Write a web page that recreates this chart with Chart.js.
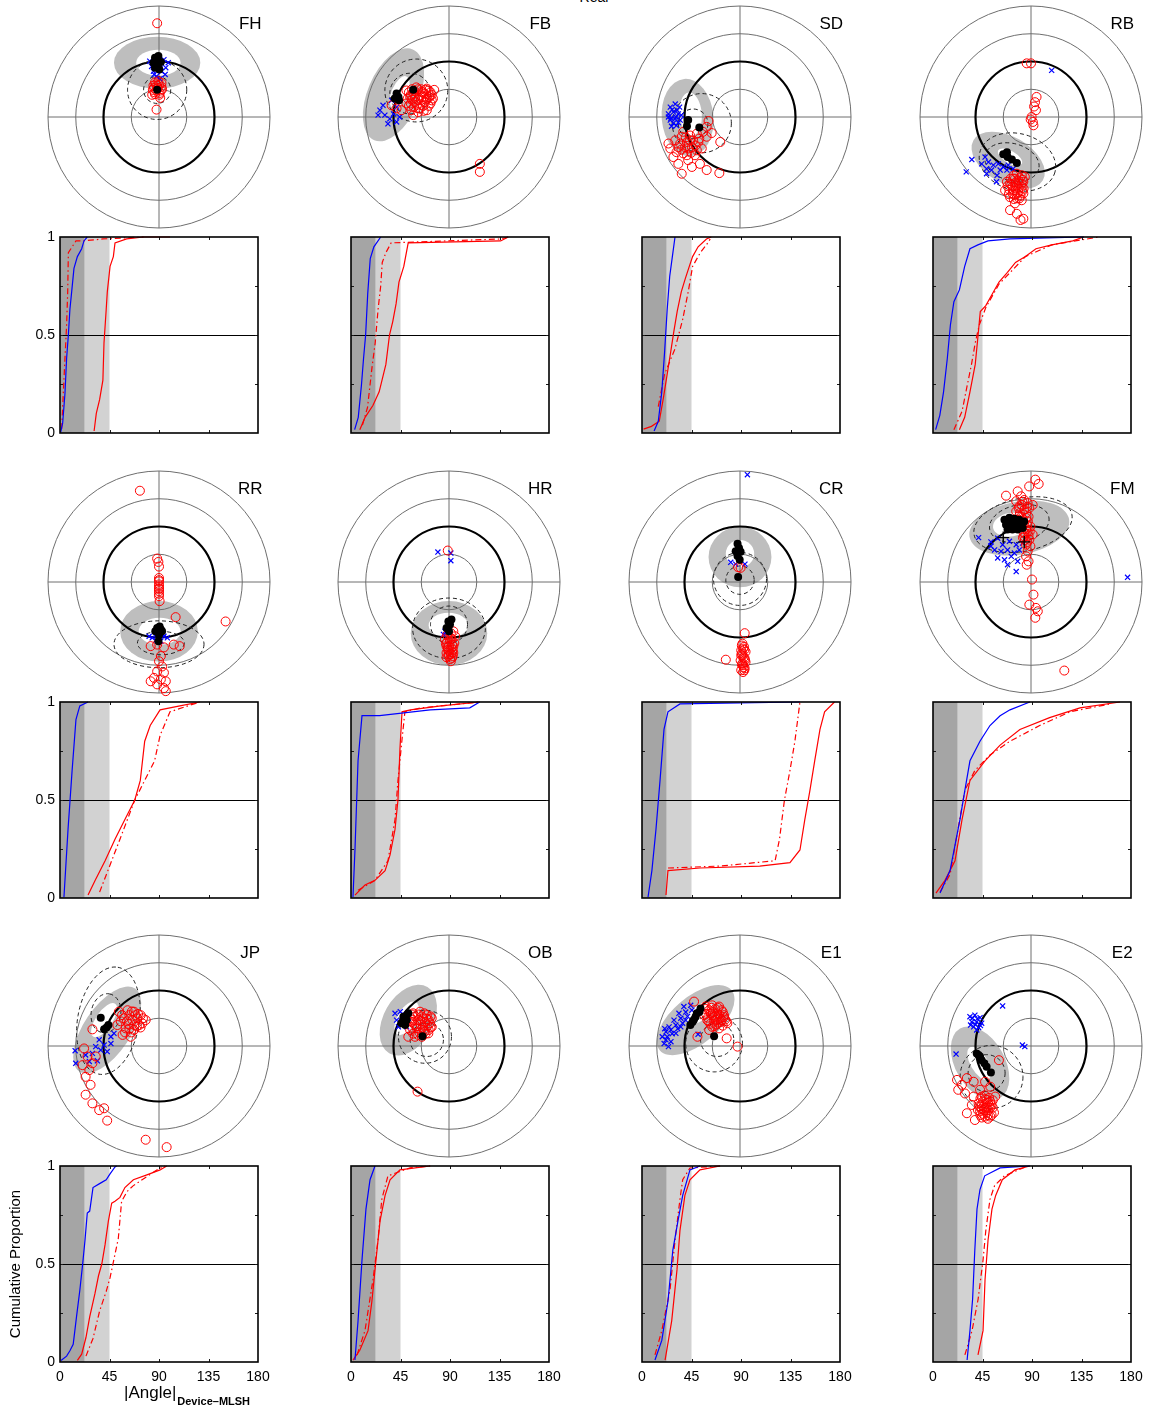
<!DOCTYPE html>
<html>
<head>
<meta charset="utf-8">
<script src="https://cdn.jsdelivr.net/npm/chart.js@4.4.1/dist/chart.umd.min.js"></script>
<style>
html,body{margin:0;padding:0;background:#fff;}
body{width:1149px;height:1412px;position:relative;overflow:hidden;font-family:"Liberation Sans",Arial,Helvetica,sans-serif;}
canvas{position:absolute;}
#title{position:absolute;left:0;width:1188px;text-align:center;top:-11px;font-size:14px;color:#000;}
</style>
</head>
<body>
<div id="title">Real</div>
<script>
// ---- shared axis / ring definitions ----
const panelNames = ['FH','FB','SD','RB','RR','HR','CR','FM','JP','OB','E1','E2'];
const ringRadii = [45, 90, 135, 180];
const ringThick = 90;
const cdfTicksX = [0, 45, 90, 135, 180];
const cdfTicksY = [0, 0.5, 1];
const cdfMinorY = [0.25, 0.5, 0.75];
const bandEdges = [0, 22.5, 45];
const yTitle = 'Cumulative Proportion';
const xTitle = '|Angle|';
const xTitleSub = 'Device\u2013MLSH';

// ---- polar scatter values (x, y in degrees) ----
// shade: [cx, cy, rx, ry, rot, innerCx, innerCy, innerRx, innerRy]
// dashed: [cx, cy, rx, ry, rot]
const FH_red = [[-3,152],[-6.5,56],[-1,58],[4,55],[-9,51],[-3,51],[4,49],[-10,44],[-4,43],[3,43],[-6.5,37],[0.5,36],[-11,36],[2,31],[-4,12],[-2,47],[-7,40],[1,39],[-8,47],[5,45],[-5,53],[0,52]];
const FH_blue = [[-15,90.5],[-6.5,94],[8,93],[15,88],[-12,82],[1.6,85],[11,80],[-9,74],[4,74],[-4,66],[1.6,62],[-8,69],[10,69]];
const FH_black = [[-6.5,96],[-1,99],[-4,90.5],[-9,88],[3,89],[-3,82],[-6.5,80],[0.5,77],[-3,44]];
const FH_shade = [-3,88,70,42,0,-1,88,36,21];
const FH_dashed = [[-3,44,48,48,0],[-3,44,22,22,0]];

const FB_red = [[-69,43],[-53,48],[-36,46],[-24,44],[-63,33],[-47,35],[-31,35],[-69,22],[-55,24],[-39,24],[-28,27],[-61,11],[-47,14],[-36,11],[-58,3],[-93,19],[-85,14],[-77,11],[-42,40],[-58,38],[-50,28],[-30,40],[50,-76],[50,-89],[-65,40],[-60,45],[-45,45],[-40,38],[-35,30],[-45,28],[-52,20],[-42,18],[-33,18],[-50,8],[-65,18],[-60,28],[-28,36],[-33,43],[-67,30],[-62,36],[-56,42],[-50,45],[-44,41],[-38,44],[-32,32],[-37,28],[-43,33],[-49,31],[-55,31],[-62,22],[-57,16],[-49,14],[-41,10],[-30,22],[-26,30]];
const FB_blue = [[-112,11],[-104,3],[-96,-3],[-85,-8],[-99,-11],[-90,5],[-80,0],[-107,19],[-115,3],[-85,16],[-93,27]];
const FB_black = [[-82,32.5],[-58,44],[-85,38],[-81,27],[-88,30]];
const FB_shade = [-90,36,80,42,67,-80,40,28,13];
const FB_dashed = [[-53,43,51,51,0],[-63,38,33,33,0]];

const SD_red = [[-51,-6.5],[-54,-16],[-60,-24],[-32,-40.5],[-70,-27],[-81,-30],[-94.5,-32],[-105,-38],[-86,-40.5],[-67.5,-40.5],[-54,-32],[-113,-51],[-100,-49],[-78,-49],[-62,-51],[-92,-59],[-73,-62],[-108,-65],[-84,-70],[-65,-76],[-100,-76],[-54,-86],[-94.5,-92],[-33.5,-91],[-78,-81],[-103,-57],[-116,-43],[-46,-26],[-92,-24],[-76,-38],[-97,-43],[-84,-51],[-70,-54],[-89,-49],[-81,-38],[-88,-33],[-72,-46],[-95,-53],[-79,-58],[-86,-62],[-66,-35]];
const SD_blue = [[-113,16],[-105,21],[-98,16],[-116,5],[-108,8],[-100,5],[-113,-5],[-105,-3],[-97,-5],[-111,-15],[-103,-14],[-116,0],[-95,3],[-110,12],[-102,11],[-108,-10],[-100,-9],[-112,-2],[-104,0]];
const SD_black = [[-84,-5],[-66,-17],[-86,-15]];
const SD_shade = [-85,-1,63,42,95,-80,5,35,18];
const SD_dashed = [[-62,-10,48,48,0],[-76,-11,24,24,0]];

const RB_red = [[-7,87],[0,87],[9,32.5],[6.5,24],[5,17],[8,11],[1,0],[-0.5,-4],[3,-8],[4,-13.5],[-23,-92],[-15,-94.5],[-29,-100],[-20.5,-103],[-12.4,-105],[-34,-108],[-23,-111],[-15,-113],[-39,-105],[-29,-119],[-20.5,-121.5],[-12.4,-124],[-34,-130],[-23,-132],[-15,-135],[-42,-119],[-10,-97],[-26,-140],[-34,-151],[-23,-157],[-12.4,-165],[-17,-167],[-28,-95],[-18,-99],[-25,-106],[-15,-108],[-30,-113],[-20,-116],[-27,-126],[-17,-128],[-35,-118],[-25,-115],[-12,-116],[-33,-100],[-26,-100],[-20,-108],[-32,-110],[-14,-120],[-22,-124],[-30,-124],[-36,-125],[-19,-132],[-28,-133],[-13,-102],[-38,-112]];
const RB_blue = [[-96,-69],[-105,-89],[-56,-105],[33.5,75.6],[-74.5,-65],[-80,-76],[-69,-73],[-61,-78],[-53,-76],[-45,-81],[-37,-78],[-72,-84],[-64,-86],[-50,-86],[-39,-86],[-29,-84],[-55,-94.5],[-72,-92]];
const RB_black = [[-45,-60.5],[-38,-65],[-31,-69],[-23,-74.5],[-39,-57]];
const RB_shade = [-37,-70,65,38,-30,-34,-65,22,10];
const RB_dashed = [[-22,-73,63,46,-15],[-31,-73,45,30,-15]];

const RR_red = [[-31,148],[108,-64],[27,-57],[-3,38],[-1,32.5],[0,25],[0,6.5],[0,1],[0,-4],[0,-10],[0,-15],[0,-23],[1,-31],[-13.5,-104],[-3,-101.5],[8,-106],[24,-101.5],[33.5,-104],[3,-120],[0,-128.5],[5,-137],[-3,-145],[8,-147],[-8,-155.5],[3,-158],[11,-161],[-13.5,-161],[-3,-166],[8,-172],[11,-177],[0,3],[0,-7],[0,-12],[0,-19]];
const RR_blue = [[-16,-88],[-11,-90.5],[-3,-86],[8,-88],[13.5,-90.5],[-5,-94.5],[3,-96],[5,-85]];
const RR_black = [[-3,-74.5],[1,-72],[-6,-80],[5,-80],[0,-86],[-1,-96],[3,-77]];
const RR_shade = [0,-80,63,49,0,1,-80,34,22];
const RR_dashed = [[0,-101,73,38,0],[3,-99,38,19,0]];

const HR_red = [[-2,51],[3,-83],[10,-88],[-6.5,-93],[1.6,-96],[8.6,-99],[-4,-104],[4,-107],[0,-112],[7,-115],[-1,-120],[5,-123],[3,-128.5],[7,-80],[2,-90],[-3,-98],[5,-102],[0,-104],[-2,-110],[3,-117],[6,-110],[-4,-115],[-3,-86],[4,-92],[-5,-100],[7,-104],[-2,-106],[5,-114],[0,-118],[-4,-122],[2,-125],[6,-120]];
const HR_blue = [[-18,48.6],[3,47],[3,34.6],[-9,-85],[-4,-83],[-6.5,-80]];
const HR_black = [[-1,-64],[1.6,-69],[-4,-74.5],[0,-80],[4,-61]];
const HR_shade = [0,-83,62,52,0,-1,-70,32,20];
const HR_dashed = [[0,-75,59,49,0],[0,-69,30,30,0]];

const CR_red = [[-3,24],[1,23],[7.6,-83],[-23,-126],[4,-100],[6.5,-105],[2,-111],[9,-113],[4,-119],[7.6,-124],[1,-127],[9,-130],[5,-135],[7.6,-140],[2,-143],[5,-108],[3,-116],[6,-122],[4,-132],[6,-138],[3,-103],[7,-110],[2,-119],[8,-127],[3,-134],[7,-143],[5,-146]];
const CR_blue = [[12,174],[-15,32],[-7,29],[8,29]];
const CR_black = [[-4,62],[-1.6,55],[-7,50],[1,49],[-4,42],[-0.5,36],[-3,8]];
const CR_shade = [0,40.5,51,49,0,0,46,23,22];
const CR_dashed = [[0,5,43,43,0],[0,3,23,23,0]];

const FM_red = [[7,166],[12.4,159],[-3,155],[-40.5,140],[-21.6,147],[-16,139],[-11,133],[-24,131],[-5.4,128],[-19,122.6],[-11,117],[-24,114.5],[-2.7,120],[2.7,125],[-16,106],[-8,104],[-21.6,101],[-11,93],[-5.4,82],[2.7,77],[-11,74],[-2.7,68.6],[-8,60.5],[-5.4,49.7],[-8,41.6],[-4,33.5],[-7,28],[1.6,4],[4,-20.5],[-2.7,-36.7],[8,-42],[11,-47.5],[7,-58],[54,-143.6],[-15,125],[-8,112],[-18,112],[-5,98],[-15,97],[-1,90],[-8,86],[-12,80],[-4,75],[-6,65],[-1,58],[-10,68],[-20,120],[-14,130],[-6,122],[-19,107],[-13,102],[-4,106],[-17,92],[-6,92],[-9,78],[-2,82],[-13,72]];
const FM_blue = [[-85,72],[-65,65],[-54,71],[-46,60.5],[-35,66],[-24,60.5],[-13.5,63],[-59,52],[-48.6,49.7],[-38,52],[-27,47],[-54,39],[-43,36],[-32,41.6],[-21.6,33.5],[-38,28],[-24,17],[-65,58],[-19,52],[156.6,7.6]];
const FM_black = [[-43,101],[-35,104],[-27,102.6],[-19,101],[-11,98],[-40.5,93],[-32,94],[-24,93],[-16,90],[-38,85],[-30,85],[-21.6,85],[-13.5,87.5]];
const FM_plus = [[-45,72],[-11,65]];
const FM_shade = [-19,87.5,82,43,10,-32,93,30,19];
const FM_dashed = [[-13,93,81,43,12],[-19,95,49,30,12]];

const JP_red = [[-65,55.6],[-51,58],[-40.5,55.6],[-29.7,50],[-21.6,42],[-57,45],[-43,42],[-32,34],[-67.5,34],[-54,28.6],[-40.5,26],[-46,15],[-59,18],[-27,36.7],[-38,50],[-108,27],[-121.5,-4],[-116,-17],[-124,-31],[-113,-39],[-119,-50],[-111,-63],[-119,-79],[-108,-93],[-97,-104],[-89,-101],[-84,-121],[-21.6,-152],[12.4,-164],[-102.6,-17],[-108,-28],[-48,50],[-35,45],[-26,45],[-50,36],[-36,32],[-45,22],[-52,40],[-30,30],[-60,50],[-44,56],[-34,52],[-62,40],[-40,34],[-48,28],[-55,22]];
const JP_blue = [[-136,-7.6],[-135,-28],[-100,-24],[-108,-12],[-97,10],[-89,1.6],[-78,4],[-94.5,-6.5],[-84,-9],[-73,20.5],[-102.6,-1],[-119,-14.6],[-113,-25],[-78,15]];
const JP_black = [[-94.5,46],[-85,30],[-82,34],[-89,27]];
const JP_shade = [-84,26,81,38,56,-89,42,32,13.5];
const JP_dashed = [[-82,41,88,50,80],[-86,53,32,24,80]];

const OB_red = [[-58,53],[-47,55.6],[-36,50],[-28,45],[-60.5,39],[-50,42],[-39,39],[-28,31],[-63,26],[-52,28.6],[-41.6,26],[-33.5,20.5],[-66,15],[-55,15],[-44,15],[-51,-74],[-55,48],[-44,48],[-33,42],[-56,35],[-46,35],[-35,33],[-58,20],[-48,22],[-38,20],[-42,45],[-31,37],[-62,45],[-60,51],[-50,51],[-40,53],[-30,48],[-59,42],[-46,40],[-36,44],[-53,32],[-43,30],[-33,26],[-60,30],[-50,18],[-40,23],[-30,30]];
const OB_blue = [[-87.5,53],[-79,55.6],[-71,50],[-85,42],[-77,39],[-66,45],[-82,31],[-68.6,31]];
const OB_black = [[-74,47.5],[-68.6,42],[-77,37],[-66,53],[-71,34],[-43,16]];
const OB_shade = [-66,42,62,40,60,-68.6,45,30,15];
const OB_dashed = [[-39,15,43,43,0],[-36,10,27,27,0]];

const E1_red = [[-55.6,64],[-45,66],[-34,64],[-58,50],[-47.5,53],[-37,53],[-26,50],[-53,42],[-42,41],[-31,39],[-20.5,37],[-45,31],[-34,28.6],[-74.5,72],[-69,15],[-50,26],[-21.6,12.4],[-4,-1],[-50,58],[-40,60],[-30,58],[-52,46],[-42,47],[-32,45],[-24,43],[-48,36],[-38,35],[-28,33],[-44,55],[-36,48],[-56,60],[-46,62],[-36,62],[-28,55],[-55,52],[-45,50],[-34,51],[-26,47],[-51,40],[-40,43],[-30,42],[-22,40],[-42,32],[-36,38]];
const E1_blue = [[-123,4],[-118,15],[-112,26],[-104,34],[-96,45],[-88,55],[-80,66],[-126,15],[-115,31],[-107,42],[-99,53],[-91,64],[-112,7],[-104,20.5],[-96,31],[-88,42],[-120,23],[-68,19],[-120,10],[-110,20],[-101,28],[-93,37],[-85,48],[-78,58],[-116,-1],[-122,28]];
const E1_black = [[-77,39],[-72,47.5],[-66,55],[-64,61],[-75,42],[-70,53],[-80.5,34],[-42,16]];
const E1_shade = [-72,42,76,38,40,-66,53,25,12];
const E1_dashed = [[-42,4,46,46,0],[-37,10,27,27,0]];

const E2_red = [[-52,-23],[-120,-55],[-112,-63],[-104,-52],[-93,-58],[-118,-71],[-107,-77],[-93,-82],[-82.6,-71],[-74.5,-58],[-66,-66],[-80,-82],[-72,-87.5],[-85,-93],[-77,-98],[-69,-104],[-64,-95.6],[-82.6,-106],[-74.5,-114.5],[-66,-114.5],[-96,-95.6],[-104,-109],[-91,-120],[-58,-82],[-78,-90],[-70,-92],[-80,-102],[-72,-108],[-66,-100],[-78,-110],[-70,-118],[-75,-80],[-68,-84],[-62,-88],[-84,-98],[-60,-108],[-82,-85],[-74,-86],[-66,-90],[-80,-96],[-74,-100],[-68,-96],[-82,-112],[-76,-104],[-70,-112],[-64,-112],[-80,-116],[-72,-100],[-62,-100],[-86,-104]];
const E2_blue = [[-99,47.5],[-91,50],[-82.6,46],[-96,39],[-88,39],[-80,37],[-93,31],[-85,30],[-46,65],[-14,1.6],[-10,-1],[-121.5,-13],[-95,45],[-87,44],[-90,35],[-82,33],[-98,34],[-88,26]];
const E2_black = [[-88,-12],[-82.6,-17],[-80,-23],[-75.6,-28],[-72,-33.5],[-65,-43],[-85,-14.6]];
const E2_shade = [-82.6,-28,65,40,-60,-84,-28,30,14];
const E2_dashed = [[-64,-50,51,51,0],[-72,-44,30,30,0]];

// ---- cumulative proportion curves: [angle, proportion] ----
const FH_cdfBlue = [[0.6,0.003],[2.4,0.05],[4.5,0.2],[6,0.38],[7.6,0.5],[9,0.63],[10.6,0.72],[12.7,0.84],[15.8,0.9],[19.7,0.94],[21.8,0.98],[24.8,1]];
const FH_cdfRed = [[31,0.01],[33,0.1],[36,0.17],[39,0.27],[40,0.46],[42,0.63],[43,0.72],[45.5,0.85],[48.5,0.9],[50,0.97],[60.6,0.99],[76,1],[100,1]];
const FH_cdfRedDash = [[1.5,0.02],[3,0.2],[4.5,0.38],[6,0.55],[7,0.72],[7.6,0.92],[14.5,0.98],[21,0.98],[39,0.99],[76,1]];

const FB_cdfBlue = [[3.3,0.017],[6.6,0.08],[9.5,0.245],[11.4,0.38],[13.3,0.5],[15.2,0.71],[17.5,0.89],[20.8,0.95],[27,1]];
const FB_cdfRed = [[8,0.017],[12.8,0.08],[19.9,0.14],[25.6,0.21],[31.7,0.35],[35,0.5],[38,0.57],[41,0.66],[43.6,0.77],[48,0.85],[52,0.97],[136,0.98],[143,1]];
const FB_cdfRedDash = [[10.4,0.04],[15,0.13],[19,0.33],[22,0.46],[24.6,0.63],[27,0.75],[28.4,0.87],[31.7,0.92],[36.5,0.97],[136,0.99],[143,1]];

const SD_cdfBlue = [[11,0.01],[14.8,0.06],[18,0.21],[20.5,0.41],[22.9,0.63],[25.2,0.8],[27.6,0.9],[30,1]];
const SD_cdfRed = [[1.4,0.02],[8.6,0.034],[15.7,0.06],[19.5,0.18],[22.9,0.3],[26,0.41],[29,0.52],[32,0.62],[35.7,0.72],[39.5,0.79],[43,0.85],[46,0.9],[51,0.95],[58.6,0.99],[63,1]];
const SD_cdfRedDash = [[14.8,0.135],[20.5,0.3],[30,0.43],[37,0.58],[42,0.72],[46,0.85],[53,0.92],[58.6,0.96],[62,0.99]];

const RB_cdfBlue = [[2.4,0.017],[6.2,0.09],[9.6,0.21],[13,0.38],[15.8,0.55],[19,0.67],[24,0.73],[28.8,0.85],[33.6,0.94],[40.8,0.96],[50,0.98],[70,0.99],[137,1]];
const RB_cdfRed = [[24,0.017],[28.8,0.08],[33.6,0.21],[38.4,0.35],[41,0.5],[43,0.62],[48,0.65],[53,0.7],[60,0.77],[67.7,0.82],[75,0.87],[84,0.9],[93.6,0.94],[108,0.96],[127,0.98],[137,1]];
const RB_cdfRedDash = [[19,0.017],[26.4,0.11],[31,0.24],[35,0.35],[38.4,0.46],[42,0.55],[48,0.64],[60,0.76],[84,0.9],[108,0.96],[151,1]];

const RR_cdfBlue = [[3.6,0.005],[7.3,0.35],[11,0.65],[14.5,0.91],[18,0.98],[25.5,1]];
const RR_cdfRed = [[25.5,0.015],[32,0.09],[41,0.19],[50,0.3],[59,0.4],[68,0.5],[73,0.6],[77,0.8],[82,0.88],[91,0.96],[109,0.98],[127,1]];
const RR_cdfRedDash = [[36,0.03],[54.5,0.3],[68,0.5],[86,0.7],[91,0.83],[100,0.95],[127,1]];

const HR_cdfBlue = [[1.8,0.005],[3.6,0.245],[6.4,0.7],[10,0.93],[26,0.93],[72,0.96],[108,0.97],[117,1]];
const HR_cdfRed = [[3.6,0.015],[12.7,0.066],[21.8,0.09],[31,0.14],[35.5,0.22],[40,0.35],[42.7,0.5],[44.5,0.76],[46.4,0.95],[54,0.96],[81.8,0.98],[117,1]];
const HR_cdfRedDash = [[6.4,0.04],[21.8,0.09],[33.6,0.19],[40,0.4],[42.7,0.6],[46.4,0.81],[49,0.95],[63.6,0.97],[117,1]];

const CR_cdfBlue = [[5.5,0.005],[9,0.14],[12.7,0.35],[16.4,0.6],[20,0.86],[23.6,0.95],[34.5,0.99],[143.6,1]];
const CR_cdfRed = [[21.8,0.015],[23.6,0.14],[52.7,0.153],[107,0.163],[134.5,0.18],[143.6,0.245],[148,0.4],[152.7,0.55],[157,0.7],[161.8,0.86],[166,0.95],[175,1]];
const CR_cdfRedDash = [[23.6,0.153],[71,0.163],[121,0.19],[125,0.3],[129.5,0.5],[134.5,0.65],[139,0.8],[143.6,1]];

const FM_cdfBlue = [[6.4,0.025],[15.5,0.14],[24.5,0.4],[29,0.55],[33.6,0.7],[42.7,0.8],[51.8,0.88],[61,0.93],[70,0.96],[88,1]];
const FM_cdfRed = [[2.7,0.025],[10.9,0.09],[20,0.19],[26.4,0.4],[33.6,0.6],[47.3,0.7],[61,0.78],[79,0.86],[106,0.92],[133.6,0.97],[170,1]];
const FM_cdfRedDash = [[6.4,0.03],[15.5,0.12],[22.7,0.35],[29,0.55],[38,0.65],[51.8,0.73],[70,0.8],[97,0.88],[124.5,0.95],[161,0.99]];

const JP_cdfBlue = [[0.9,0.008],[6,0.03],[9,0.057],[12,0.09],[15,0.23],[18,0.365],[20.6,0.5],[22.7,0.62],[24.8,0.76],[27,0.77],[30,0.89],[36,0.91],[42,0.93],[45.5,0.96],[50,0.995],[51.5,1]];
const JP_cdfRed = [[15.8,0.008],[19.7,0.04],[23.6,0.125],[27,0.23],[31.8,0.35],[35,0.44],[38,0.5],[41,0.6],[44,0.72],[47,0.81],[50,0.82],[54.5,0.84],[59,0.89],[66.7,0.93],[79,0.955],[91,0.98],[97,1]];
const JP_cdfRedDash = [[23.6,0.03],[30,0.12],[36,0.26],[42,0.36],[45.5,0.43],[50,0.55],[53,0.63],[56,0.82],[61,0.87],[66.7,0.9],[88,0.98],[95.5,1]];

const OB_cdfBlue = [[3.6,0.01],[6.4,0.21],[10,0.52],[13.6,0.78],[17.3,0.93],[21.8,1]];
const OB_cdfRed = [[1.8,0.01],[8,0.06],[15.5,0.16],[19,0.31],[22.7,0.52],[26.4,0.72],[31,0.85],[35.5,0.93],[44.5,0.98],[72,1]];
const OB_cdfRedDash = [[5.5,0.036],[12.7,0.16],[20,0.42],[24.5,0.62],[28,0.83],[33.6,0.95],[53.6,0.99],[72,1]];

const E1_cdfBlue = [[11.8,0.01],[18,0.11],[23.6,0.31],[28,0.57],[32.7,0.72],[37,0.85],[43.6,0.98],[52.7,1]];
const E1_cdfRed = [[21,0.01],[27,0.21],[31.8,0.47],[34.5,0.67],[39,0.85],[43.6,0.93],[52.7,0.98],[71,1]];
const E1_cdfRedDash = [[11.8,0.036],[18,0.16],[25.5,0.37],[30,0.62],[34.5,0.83],[37,0.93],[43.6,0.99],[71,1]];

const E2_cdfBlue = [[31,0.01],[33.6,0.16],[36,0.32],[38,0.57],[40,0.78],[42.7,0.88],[47,0.95],[61,0.99],[88,1]];
const E2_cdfRed = [[40.9,0.036],[45.5,0.16],[47.3,0.42],[50,0.62],[53.6,0.78],[57,0.85],[63,0.93],[74.5,0.98],[88,1]];
const E2_cdfRedDash = [[29,0.036],[35.5,0.16],[41,0.32],[45.5,0.52],[48,0.67],[51.8,0.83],[56,0.9],[65,0.95],[86,1]];

// ---- panel table assembled from the arrays above ----
const panels = [
  {red:FH_red, blue:FH_blue, black:FH_black, shade:FH_shade, dashed:FH_dashed, cdf:[FH_cdfBlue,FH_cdfRed,FH_cdfRedDash]},
  {red:FB_red, blue:FB_blue, black:FB_black, shade:FB_shade, dashed:FB_dashed, cdf:[FB_cdfBlue,FB_cdfRed,FB_cdfRedDash]},
  {red:SD_red, blue:SD_blue, black:SD_black, shade:SD_shade, dashed:SD_dashed, cdf:[SD_cdfBlue,SD_cdfRed,SD_cdfRedDash]},
  {red:RB_red, blue:RB_blue, black:RB_black, shade:RB_shade, dashed:RB_dashed, cdf:[RB_cdfBlue,RB_cdfRed,RB_cdfRedDash]},
  {red:RR_red, blue:RR_blue, black:RR_black, shade:RR_shade, dashed:RR_dashed, cdf:[RR_cdfBlue,RR_cdfRed,RR_cdfRedDash]},
  {red:HR_red, blue:HR_blue, black:HR_black, shade:HR_shade, dashed:HR_dashed, cdf:[HR_cdfBlue,HR_cdfRed,HR_cdfRedDash]},
  {red:CR_red, blue:CR_blue, black:CR_black, shade:CR_shade, dashed:CR_dashed, cdf:[CR_cdfBlue,CR_cdfRed,CR_cdfRedDash]},
  {red:FM_red, blue:FM_blue, black:FM_black, plus:FM_plus, shade:FM_shade, dashed:FM_dashed, cdf:[FM_cdfBlue,FM_cdfRed,FM_cdfRedDash]},
  {red:JP_red, blue:JP_blue, black:JP_black, shade:JP_shade, dashed:JP_dashed, cdf:[JP_cdfBlue,JP_cdfRed,JP_cdfRedDash]},
  {red:OB_red, blue:OB_blue, black:OB_black, shade:OB_shade, dashed:OB_dashed, cdf:[OB_cdfBlue,OB_cdfRed,OB_cdfRedDash]},
  {red:E1_red, blue:E1_blue, black:E1_black, shade:E1_shade, dashed:E1_dashed, cdf:[E1_cdfBlue,E1_cdfRed,E1_cdfRedDash]},
  {red:E2_red, blue:E2_blue, black:E2_black, shade:E2_shade, dashed:E2_dashed, cdf:[E2_cdfBlue,E2_cdfRed,E2_cdfRedDash]}
];

// ---- layout ----
const FONT = '"Liberation Sans", Arial, Helvetica, sans-serif';
const polarCX = [159, 449, 740, 1031];
const polarCY = [117, 582, 1046];
const polarSize = 260, polarPad = 19;
const cdfLeft = [60, 351, 642, 933];
const cdfTop = [237, 702, 1166];
const cdfPadL = 60, cdfPadT = 10, cdfW = 270, cdfH = 256, cdfBoxW = 198, cdfBoxH = 196;

const toXY = a => a.map(p => ({x: p[0], y: p[1]}));
const rad = d => d * Math.PI / 180;

// rings, crosshair, shaded region, dashed contours and panel name
const polarDecor = {
  id: 'polarDecor',
  beforeDatasetsDraw(chart) {
    const o = chart.options.plugins.polarDecor;
    const {ctx, scales: {x, y}} = chart;
    const ux = x.getPixelForValue(1) - x.getPixelForValue(0);
    const uy = y.getPixelForValue(0) - y.getPixelForValue(1);
    const cx = x.getPixelForValue(0), cy = y.getPixelForValue(0);
    ctx.save();
    const s = o.shade;
    ctx.fillStyle = '#bebebe';
    ctx.beginPath();
    ctx.ellipse(x.getPixelForValue(s[0]), y.getPixelForValue(s[1]), s[2]*ux, s[3]*uy, -rad(s[4]), 0, 2*Math.PI);
    ctx.fill();
    ctx.fillStyle = '#ffffff';
    ctx.beginPath();
    ctx.ellipse(x.getPixelForValue(s[5]), y.getPixelForValue(s[6]), s[7]*ux, s[8]*uy, -rad(s[4]), 0, 2*Math.PI);
    ctx.fill();

    const rmax = ringRadii[ringRadii.length-1];
    ctx.strokeStyle = '#6e6e6e';
    ctx.lineWidth = 1;
    ctx.beginPath();
    ctx.moveTo(x.getPixelForValue(-rmax), cy); ctx.lineTo(x.getPixelForValue(rmax), cy);
    ctx.moveTo(cx, y.getPixelForValue(rmax)); ctx.lineTo(cx, y.getPixelForValue(-rmax));
    ctx.stroke();
    ringRadii.forEach(r => {
      ctx.beginPath();
      ctx.arc(cx, cy, r*ux, 0, 2*Math.PI);
      if (r === ringThick) { ctx.strokeStyle = '#000'; ctx.lineWidth = 2.2; }
      else { ctx.strokeStyle = '#6e6e6e'; ctx.lineWidth = 1; }
      ctx.stroke();
    });

    ctx.strokeStyle = '#222';
    ctx.lineWidth = 1;
    ctx.setLineDash([4, 3]);
    o.dashed.forEach(e => {
      ctx.beginPath();
      ctx.ellipse(x.getPixelForValue(e[0]), y.getPixelForValue(e[1]), e[2]*ux, e[3]*uy, -rad(e[4]), 0, 2*Math.PI);
      ctx.stroke();
    });
    ctx.restore();
  },
  afterDatasetsDraw(chart) {
    const o = chart.options.plugins.polarDecor;
    const {ctx, scales: {x, y}} = chart;
    ctx.save();
    ctx.fillStyle = '#000';
    ctx.font = '17px ' + FONT;
    ctx.textAlign = 'center';
    ctx.textBaseline = 'middle';
    ctx.fillText(o.name, x.getPixelForValue(148), y.getPixelForValue(151));
    ctx.restore();
  }
};

// grey angle bands, reference line, frame, inner tick marks and axis titles
const cdfDecor = {
  id: 'cdfDecor',
  beforeDatasetsDraw(chart) {
    const {ctx, chartArea: a, scales: {x, y}} = chart;
    ctx.save();
    const cols = ['#a5a5a5', '#d2d2d2'];
    for (let i = 0; i < bandEdges.length - 1; i++) {
      const x0 = x.getPixelForValue(bandEdges[i]), x1 = x.getPixelForValue(bandEdges[i+1]);
      ctx.fillStyle = cols[i];
      ctx.fillRect(x0, a.top, x1 - x0, a.bottom - a.top);
    }
    ctx.strokeStyle = '#000';
    ctx.lineWidth = 1.2;
    const ym = Math.round(y.getPixelForValue(0.5)) + 0.5;
    ctx.beginPath(); ctx.moveTo(a.left, ym); ctx.lineTo(a.right, ym); ctx.stroke();
    ctx.restore();
  },
  afterDatasetsDraw(chart) {
    const {ctx, chartArea: a, scales: {x, y}} = chart;
    ctx.save();
    ctx.strokeStyle = '#1a1a1a';
    ctx.lineWidth = 1;
    ctx.beginPath();
    cdfTicksX.slice(1, -1).forEach(v => {
      const px = Math.round(x.getPixelForValue(v)) + 0.5;
      ctx.moveTo(px, a.bottom); ctx.lineTo(px, a.bottom - 3);
      ctx.moveTo(px, a.top); ctx.lineTo(px, a.top + 3);
    });
    cdfMinorY.forEach(v => {
      const py = Math.round(y.getPixelForValue(v)) + 0.5;
      ctx.moveTo(a.left, py); ctx.lineTo(a.left + 3, py);
      ctx.moveTo(a.right, py); ctx.lineTo(a.right - 3, py);
    });
    ctx.stroke();
    ctx.strokeStyle = '#000';
    ctx.lineWidth = 1.6;
    ctx.strokeRect(a.left, a.top, a.right - a.left, a.bottom - a.top);
    ctx.restore();
  },
  afterDraw(chart) {
    const o = chart.options.plugins.cdfDecor;
    if (!o || !o.titles) return;
    const {ctx, chartArea: a} = chart;
    ctx.save();
    ctx.fillStyle = '#000';
    ctx.font = '15px ' + FONT;
    ctx.textAlign = 'center';
    ctx.textBaseline = 'middle';
    ctx.translate(16, (a.top + a.bottom) / 2);
    ctx.rotate(-Math.PI / 2);
    ctx.fillText(yTitle, 0, 0);
    ctx.restore();
    ctx.save();
    ctx.fillStyle = '#000';
    ctx.textBaseline = 'alphabetic';
    ctx.textAlign = 'left';
    ctx.font = '17px ' + FONT;
    const w = ctx.measureText(xTitle).width;
    const x0 = 124;
    ctx.fillText(xTitle, x0, a.bottom + 36);
    ctx.font = 'bold 11px ' + FONT;
    ctx.fillText(xTitleSub, x0 + w + 1, a.bottom + 43);
    ctx.restore();
  }
};

function addCanvas(left, top, w, h) {
  const cv = document.createElement('canvas');
  cv.width = w; cv.height = h;
  cv.style.left = left + 'px';
  cv.style.top = top + 'px';
  document.body.appendChild(cv);
  return cv;
}

function makePolar(i) {
  const d = panels[i];
  const col = i % 4, row = Math.floor(i / 4);
  const cv = addCanvas(polarCX[col] - polarSize/2, polarCY[row] - polarSize/2, polarSize, polarSize);
  const datasets = [
    {label: 'mean', data: toXY(d.black), pointStyle: 'circle', pointRadius: 4, backgroundColor: '#000', borderColor: '#000', borderWidth: 0, clip: false},
    {label: 'red', data: toXY(d.red), pointStyle: 'circle', pointRadius: 4.5, backgroundColor: 'rgba(0,0,0,0)', borderColor: '#ff0000', borderWidth: 1, clip: false},
    {label: 'blue', data: toXY(d.blue), pointStyle: 'crossRot', pointRadius: 3.6, borderColor: '#0000ff', borderWidth: 1.2, clip: false}
  ];
  if (d.plus) datasets.unshift({label: 'plus', data: toXY(d.plus), pointStyle: 'cross', pointRadius: 6, borderColor: '#000', borderWidth: 1.4, clip: false});
  const lim = ringRadii[ringRadii.length - 1];
  new Chart(cv, {
    type: 'scatter',
    data: {datasets},
    options: {
      responsive: false, animation: false, events: [],
      layout: {padding: polarPad},
      plugins: {legend: {display: false}, tooltip: {enabled: false},
        polarDecor: {name: panelNames[i], shade: d.shade, dashed: d.dashed}},
      scales: {
        x: {type: 'linear', min: -lim, max: lim, display: false},
        y: {type: 'linear', min: -lim, max: lim, display: false}
      }
    },
    plugins: [polarDecor]
  });
}

// fixed axis footprint so every frame lands on the same grid
function fixPadding(s) {
  s.paddingLeft = 0; s.paddingRight = 0; s.paddingTop = 0; s.paddingBottom = 0;
}

function makeCdf(i) {
  const d = panels[i];
  const col = i % 4, row = Math.floor(i / 4);
  const cv = addCanvas(cdfLeft[col] - cdfPadL, cdfTop[row] - cdfPadT, cdfW, cdfH);
  const line = (data, color, dash) => ({data: toXY(data), showLine: true, borderColor: color, borderWidth: 1.2,
    borderDash: dash || [], pointRadius: 0, tension: 0, fill: false, clip: 3});
  const tickFont = {size: 14, family: FONT};
  new Chart(cv, {
    type: 'scatter',
    data: {datasets: [
      line(d.cdf[0], '#0000ff'),
      line(d.cdf[1], '#ff0000'),
      line(d.cdf[2], '#ff0000', [6, 3, 1.5, 3])
    ]},
    options: {
      responsive: false, animation: false, events: [],
      layout: {padding: {left: 0, top: cdfPadT, right: cdfW - cdfPadL - cdfBoxW, bottom: 0}},
      plugins: {legend: {display: false}, tooltip: {enabled: false}, cdfDecor: {titles: i === 8}},
      scales: {
        x: {type: 'linear', min: 0, max: 180,
          afterFit(s) { s.height = cdfH - cdfPadT - cdfBoxH; fixPadding(s); },
          grid: {display: false, drawTicks: false}, border: {display: false},
          afterBuildTicks(s) { s.ticks = cdfTicksX.map(v => ({value: v})); },
          ticks: {display: row === 2, padding: 7, color: '#000', font: tickFont, maxRotation: 0, autoSkip: false,
            callback: v => String(v)}},
        y: {type: 'linear', min: 0, max: 1,
          afterFit(s) { s.width = cdfPadL; fixPadding(s); },
          grid: {display: false, drawTicks: false}, border: {display: false},
          afterBuildTicks(s) { s.ticks = cdfTicksY.map(v => ({value: v})); },
          ticks: {display: col === 0, padding: 5, color: '#000', font: tickFont, callback: v => String(v)}}
      }
    },
    plugins: [cdfDecor]
  });
}

for (let i = 0; i < panels.length; i++) { makeCdf(i); makePolar(i); }
</script>
</body>
</html>
